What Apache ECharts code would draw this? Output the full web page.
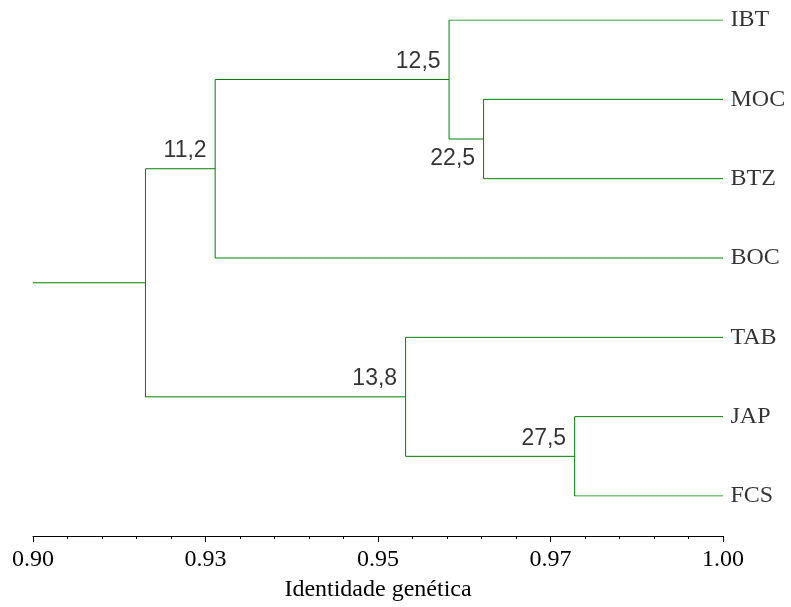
<!DOCTYPE html>
<html>
<head>
<meta charset="utf-8">
<script src="https://cdn.jsdelivr.net/npm/echarts@6/dist/echarts.min.js"></script>
<style>html,body{margin:0;padding:0;background:#fff;overflow:hidden}#chart{width:791px;height:607px}</style>
</head>
<body>
<div id="chart"></div>
<script>
// Leaves (top to bottom) — all at identity 1.00
const leaves = ['IBT', 'MOC', 'BTZ', 'BOC', 'TAB', 'JAP', 'FCS'];
const leafIdentity = 1.00;
// Internal nodes (children listed before parents). 'L#' = leaf, 'N#' = node
const nodeIdentity = [0.9653, 0.9603, 0.9264, 0.9785, 0.9540, 0.9163];
const nodeLeft     = ['L1', 'L0', 'N1', 'L5', 'L4', 'N2'];
const nodeRight    = ['L2', 'N0', 'L3', 'L6', 'N3', 'N4'];
const nodeSupport  = ['22,5', '12,5', '11,2', '27,5', '13,8', ''];
const tickLabels   = ['0.90', '0.93', '0.95', '0.97', '1.00'];
const axisMin = 0.90, axisMax = 1.00, axisStep = 0.025;

const GREEN = '#008000';
const nodeY = [];
function pos(ref) {
  const k = +ref.slice(1);
  return ref[0] === 'L' ? [leafIdentity, k] : [nodeIdentity[k], nodeY[k]];
}
const segs = [];
nodeIdentity.forEach((x, i) => {
  const a = pos(nodeLeft[i]), b = pos(nodeRight[i]);
  nodeY[i] = (a[1] + b[1]) / 2;
  segs.push({coords: [[a[0], a[1]], [x, a[1]], [x, b[1]], [b[0], b[1]]]});
});
const rootIdx = nodeIdentity.length - 1;
segs.push({coords: [[axisMin, nodeY[rootIdx]], [nodeIdentity[rootIdx], nodeY[rootIdx]]]});

const leafData = leaves.map((n, i) => ({value: [leafIdentity, i], name: n}));
const nodeData = nodeIdentity.map((x, i) => {
  const d = {value: [x, nodeY[i]], name: nodeSupport[i]};
  if (i === 0) d.label = {position: [-8, 9], verticalAlign: 'top'};
  return d;
}).filter(d => d.name !== '');

const chart = echarts.init(document.getElementById('chart'), null, {renderer: 'canvas', width: 791, height: 607});
chart.setOption({
  animation: false,
  backgroundColor: '#fff',
  grid: {left: 33, width: 690, top: 20, height: 480},
  xAxis: {
    type: 'value', min: axisMin, max: axisMax, interval: axisStep,
    position: 'bottom', offset: 40,
    axisLine: {show: true, onZero: false, lineStyle: {color: '#000', width: 1}},
    axisTick: {show: true, length: 6, lineStyle: {color: '#000'}},
    minorTick: {show: true, splitNumber: 5, length: 3, lineStyle: {color: '#000'}},
    splitLine: {show: false},
    minorSplitLine: {show: false},
    axisLabel: {
      margin: 12, color: '#000', fontFamily: 'Liberation Serif', fontSize: 24,
      formatter: (v, i) => tickLabels[i]
    },
    name: 'Identidade genética', nameLocation: 'middle', nameGap: 42,
    nameTextStyle: {color: '#000', fontFamily: 'Liberation Serif', fontSize: 24}
  },
  yAxis: {type: 'value', min: 0, max: leaves.length - 1, inverse: true, show: false},
  series: [
    {
      type: 'lines', coordinateSystem: 'cartesian2d', polyline: true,
      lineStyle: {color: GREEN, width: 1, opacity: 1},
      data: segs, silent: true
    },
    {
      type: 'scatter', symbolSize: 1, itemStyle: {color: 'rgba(0,0,0,0)'},
      data: leafData,
      label: {show: true, position: 'right', distance: 7, formatter: '{b}',
        color: '#000', fontFamily: 'Liberation Serif', fontSize: 24}
    },
    {
      type: 'scatter', symbolSize: 1, itemStyle: {color: 'rgba(0,0,0,0)'},
      data: nodeData,
      label: {show: true, position: [-8, -6], align: 'right', verticalAlign: 'bottom',
        formatter: '{b}', color: '#000', fontFamily: 'Liberation Sans', fontSize: 23}
    }
  ]
});
</script>
</body>
</html>
